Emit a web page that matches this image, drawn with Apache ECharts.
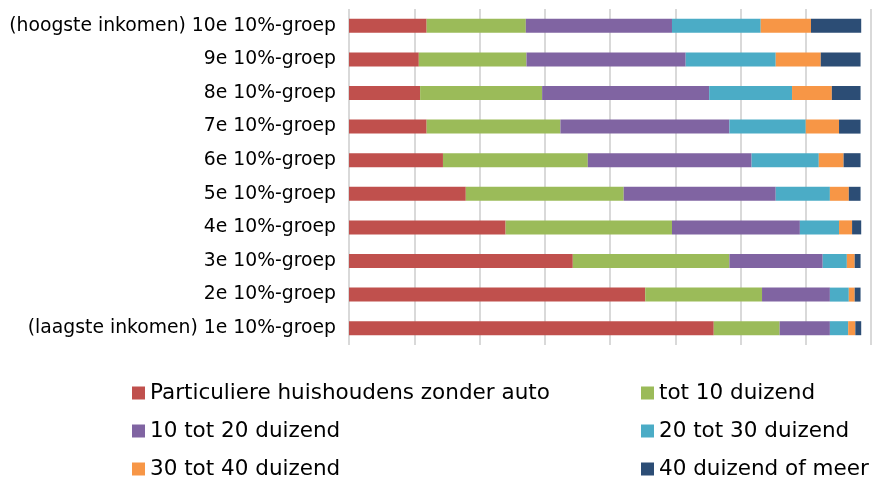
<!DOCTYPE html>
<html>
<head>
<meta charset="utf-8">
<script src="https://cdn.jsdelivr.net/npm/echarts@6/dist/echarts.min.js"></script>
<style>
  html, body { margin: 0; padding: 0; background: #fff; }
  #chart { width: 872px; height: 477px; }
</style>
</head>
<body>
<div id="chart"></div>
<script>
  // inkomensgroepen, van onder (laagste) naar boven (hoogste)
  var groepen = [
    '(laagste inkomen) 1e 10%-groep',
    '2e 10%-groep',
    '3e 10%-groep',
    '4e 10%-groep',
    '5e 10%-groep',
    '6e 10%-groep',
    '7e 10%-groep',
    '8e 10%-groep',
    '9e 10%-groep',
    '(hoogste inkomen) 10e 10%-groep'
  ]

  var zonderAuto  = [559, 454, 343, 240, 179, 144, 119, 109, 107, 119]
  var tot10       = [101, 179, 240, 255, 242, 222, 205, 187, 165, 152]
  var tot20       = [77, 104, 143, 196, 233, 251, 259, 256, 244, 224]
  var tot30       = [28, 29, 37, 60, 83, 103, 117, 127, 138, 136]
  var tot40       = [11, 9, 12, 20, 29, 38, 51, 61, 69, 77]
  var meer        = [9, 9, 9, 14, 18, 26, 33, 44, 61, 77]

  var namen = [
    'Particuliere huishoudens zonder auto',
    'tot 10 duizend',
    '10 tot 20 duizend',
    '20 tot 30 duizend',
    '30 tot 40 duizend',
    '40 duizend of meer'
  ]
  var kleuren = ['#C0504D', '#9BBB59', '#8064A2', '#4BACC6', '#F79646', '#2C4D75']
  var reeksen = [zonderAuto, tot10, tot20, tot30, tot40, meer]

  var font = 'DejaVu Sans'

  var series = reeksen.map(function (d, i) {
    return {
      name: namen[i],
      type: 'bar',
      stack: 'totaal',
      barWidth: 14,
      itemStyle: { color: kleuren[i] },
      data: d
    }
  })

  var legendStyle = {
    orient: 'vertical',
    top: 377,
    height: 120,
    itemWidth: 13,
    itemHeight: 13,
    itemGap: 16,
    icon: 'rect',
    textStyle: {
      fontFamily: font,
      fontSize: 21.5,
      lineHeight: 22,
      color: '#000'
    }
  }

  var option = {
    animation: false,
    textStyle: { fontFamily: font },
    grid: {
      left: 349,
      right: 1,
      top: 9,
      bottom: 132,
      containLabel: false
    },
    legend: [
      Object.assign({ left: 127, data: [namen[0], namen[2], namen[4]] }, legendStyle),
      Object.assign({ left: 636, data: [namen[1], namen[3], namen[5]] }, legendStyle)
    ],
    xAxis: {
      type: 'value',
      min: 0,
      max: 800,
      interval: 100,
      axisLabel: { show: false },
      axisLine: { show: false },
      axisTick: { show: false },
      splitLine: {
        show: true,
        lineStyle: { color: '#d9d9d9', width: 2 }
      }
    },
    yAxis: {
      type: 'category',
      data: groepen,
      axisLine: { show: false },
      axisTick: { show: false },
      axisLabel: {
        margin: 13,
        fontFamily: font,
        fontSize: 18.8,
        color: '#000'
      }
    },
    series: series
  }

  var chart = echarts.init(document.getElementById('chart'))
  chart.setOption(option)
</script>
</body>
</html>
